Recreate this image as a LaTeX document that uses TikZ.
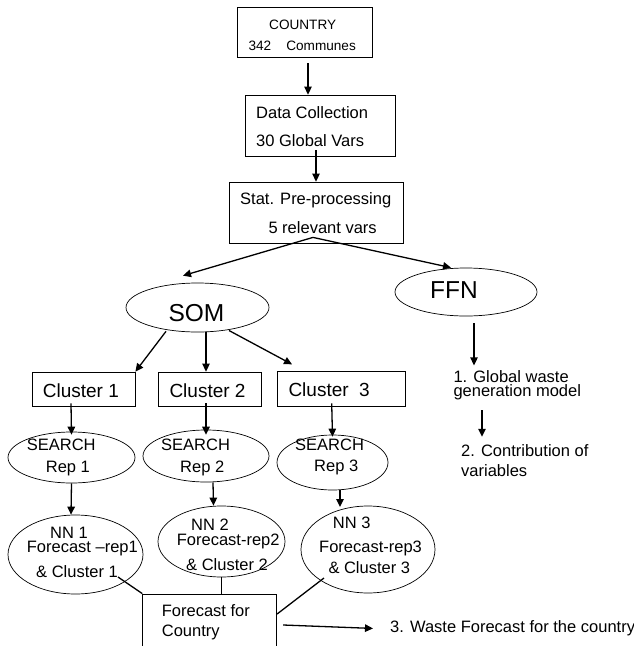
\documentclass[tikz,border=0pt]{standalone}
\usepackage{fontspec}
\setmainfont{Liberation Sans}
\usetikzlibrary{arrows.meta,shapes.geometric,calc}
\tikzset{
  box/.style={draw,line width=0.8pt,rectangle,inner sep=0pt},
  oval/.style={draw,line width=0.7pt,ellipse,inner sep=0pt},
  txt/.style={inner sep=0pt,anchor=base west,font=\fontsize{16.5}{18}\selectfont},
  two/.style={inner sep=0pt,anchor=base west,align=left,font=\fontsize{16.5}{14.3}\selectfont},
  small/.style={inner sep=0pt,anchor=base west,font=\fontsize{13.6}{15}\selectfont},
  big/.style={inner sep=0pt,anchor=base west,font=\fontsize{24.5}{26}\selectfont},
  clus/.style={inner sep=0pt,anchor=base west,font=\fontsize{19}{21}\selectfont},
  arr/.style={line width=1.3pt,-{Triangle[length=8pt,width=7.5pt]}},
  ln/.style={line width=1.3pt}
}
\begin{document}
\begin{tikzpicture}[x=1pt,y=-1pt]
\useasboundingbox (0,0) rectangle (634,646);
% shapes
\node[box,minimum width=135pt,minimum height=50pt] (country) at (304.5,32) {};
\node[box,minimum width=150pt,minimum height=61pt] (data) at (320,125.5) {};
\node[box,minimum width=174pt,minimum height=61pt] (stat) at (316,212.5) {};
\node[oval,minimum width=143pt,minimum height=49pt] (som) at (197.5,307.5) {};
\node[oval,minimum width=142pt,minimum height=48pt] (ffn) at (466,292) {};
\node[box,minimum width=103pt,minimum height=34pt] (c1) at (83.5,389) {};
\node[box,minimum width=103pt,minimum height=34pt] (c2) at (209.5,389) {};
\node[box,minimum width=127.5pt,minimum height=34.3pt] (c3) at (341.2,388.9) {};
\node[oval,minimum width=127pt,minimum height=51pt] (s1) at (71.5,457.5) {};
\node[oval,minimum width=126pt,minimum height=52pt] (s2) at (206,456) {};
\node[oval,minimum width=111pt,minimum height=55pt] (s3) at (332.5,462.5) {};
\node[oval,minimum width=135pt,minimum height=79pt] (nn1) at (75.5,554.5) {};
\node[oval,minimum width=127pt,minimum height=71pt] (nn2) at (221.5,541.5) {};
\node[oval,minimum width=134pt,minimum height=87pt] (nn3) at (368,549.5) {};
\node[box,minimum width=134pt,minimum height=60pt] (fc) at (209.7,624) {};
% texts
\node[small] (tcountry) at (269,29.3) {COUNTRY};
\node[small] (tcomm) at (248.3,50) {342\ \ \ \ Communes};
\node[txt] (tdata) at (256,118.3) {Data Collection};
\node[txt] (tvars) at (256,146.5) {30 Global Vars};
\node[txt] (tstat) at (240,204.3) {Stat. Pre-processing};
\node[txt] (trel) at (268.3,233.3) {5 relevant vars};
\node[big] (tsom) at (168.3,321.7) {SOM};
\node[big] (tffn) at (430,298.3) {FFN};
\node[two] (g1) at (453.3,396.7) {1. Global waste\\generation model};
\node[txt] (g2) at (461,456.9) {2. Contribution of};
\node[txt] (g2b) at (461,476) {variables};
\node[clus] (tc1) at (42.7,397.3) {Cluster 1};
\node[clus] (tc2) at (169.3,397.3) {Cluster 2};
\node[clus] (tc3) at (288.3,396.9) {Cluster\ \ 3};
\node[txt] (ts1) at (26.7,450) {SEARCH};
\node[txt] (tr1) at (45.7,472.3) {Rep 1};
\node[txt] (ts2) at (161,450) {SEARCH};
\node[txt] (tr2) at (180,472.3) {Rep 2};
\node[txt] (ts3) at (295,450) {SEARCH};
\node[txt] (tr3) at (314,471.7) {Rep 3};
\node[two] (tn1) at (26.7,552.7) {\hspace*{23.3pt}NN 1\\Forecast –rep1};
\node[txt] (tk1) at (36,577.7) {\& Cluster 1};
\node[two] (tn2) at (176.7,545) {\hspace*{14.3pt}NN 2\\Forecast-rep2};
\node[txt] (tk2) at (186,570) {\& Cluster 2};
\node[txt] (tn3) at (332.7,528.3) {NN 3};
\node[txt] (tf3) at (319,552.7) {Forecast-rep3};
\node[txt] (tk3) at (328.3,573.3) {\& Cluster 3};
\node[txt] (tfc) at (161.7,616) {Forecast for};
\node[txt] (tfc2) at (161.7,636.7) {Country};
\node[txt] (w3) at (390,632.7) {3. Waste Forecast for the country};
% connectors
\draw[arr] ($(country.south)+(3.5,6)$) -- ($(data.north)+(-12,0)$);
\draw[arr] ($(data.south)+(-4,-6)$) -- (stat.north);
\draw[arr] ($(stat.south)+(-3,-6)$) -- ($(som.north)+(-14.5,-7)$);
\draw[arr] ($(stat.south)+(-3,-6)$) -- ($(ffn.north)+(-15,0)$);
\draw[arr] ($(som.south)+(-31.5,-1)$) -- (c1.north east);
\draw[arr] ($(som.south)+(8.5,0)$) -- ($(c2.north)+(-3.5,0)$);
\draw[arr] ($(som.center)+(31.5,23)$) -- ($(c3.north west)+(15,-7)$);
\draw[arr] ($(ffn.south)+(8,7)$) -- ++(0,42);
\draw[arr] ($(g1.south west)+(28.7,10)$) -- ($(g2.north west)+(21,-8)$);
\draw[arr] ($(c1.south)+(-12.5,-3)$) -- ($(s1.north)+(0,3)$);
\draw[arr] ($(c2.south)+(-3.5,-3)$) -- ($(s2.north)+(0,5)$);
\draw[arr] ($(c3.south)+(-9.5,-3)$) -- ($(s3.north)+(0,2)$);
\draw[arr] ($(s1.south)+(0,0)$) -- ($(nn1.north)+(-4.5,0)$);
\draw[arr] ($(s2.south)+(7,0)$) -- ($(nn2.north)+(-8,0)$);
\draw[arr] ($(s3.south)+(7.5,0)$) -- ($(nn3.center)+(-28,-42.5)$);
\draw[ln] ($(nn1.center)+(42.5,22.5)$) -- (fc.north west);
\draw[ln] (nn2.south) -- (nn2.south |- fc.north);
\draw[ln] ($(nn3.center)+(-44,28.5)$) -- ($(fc.east)+(0,-10)$);
\draw[arr] ($(fc.east)+(6,1)$) -- ($(w3.west)+(-17,0)$);
\end{tikzpicture}
\end{document}
